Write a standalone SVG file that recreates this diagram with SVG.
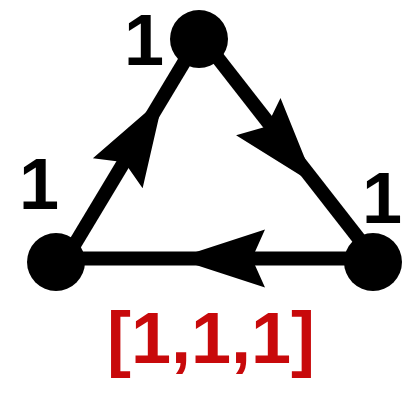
<svg xmlns="http://www.w3.org/2000/svg" width="420" height="420" viewBox="0 0 420 420">
<style>
.edge{stroke:#000;stroke-width:14;fill:none}
.node{fill:#000}
.head{fill:#000}
.lbl{font-family:"Liberation Sans",Arial,sans-serif;font-weight:bold;font-size:72px;fill:#000;text-anchor:middle}
.vec{font-family:"Liberation Sans",Arial,sans-serif;font-weight:bold;font-size:72px;fill:#c8090b;text-anchor:middle}
</style>
<defs>
<path id="ah" d="M0,0 L-89,-29 L-76,0 L-89,29 Z"/>
</defs>
<rect width="420" height="420" fill="#fff"/>
<g id="connectors">
<line class="edge" x1="64" y1="262" x2="198" y2="39"/>
<line class="edge" x1="203" y1="39" x2="377" y2="262"/>
<line class="edge" x1="373" y1="258.5" x2="56" y2="258.5"/>
<use href="#ah" class="head" transform="translate(163.6,97) rotate(-59)"/>
<use href="#ah" class="head" transform="translate(315.5,184.7) rotate(50)"/>
<use href="#ah" class="head" transform="translate(176,258.5) rotate(180)"/>
</g>
<g id="node-top">
<circle class="node" cx="199" cy="39" r="29"/>
<text class="lbl" x="144" y="65">1</text>
</g>
<g id="node-left">
<circle class="node" cx="56" cy="262" r="29"/>
<text class="lbl" x="39" y="209">1</text>
</g>
<g id="node-right">
<circle class="node" cx="373" cy="262" r="29"/>
<text class="lbl" x="382" y="223">1</text>
</g>
<text class="vec" x="211" y="363">[1,1,1]</text>
</svg>
